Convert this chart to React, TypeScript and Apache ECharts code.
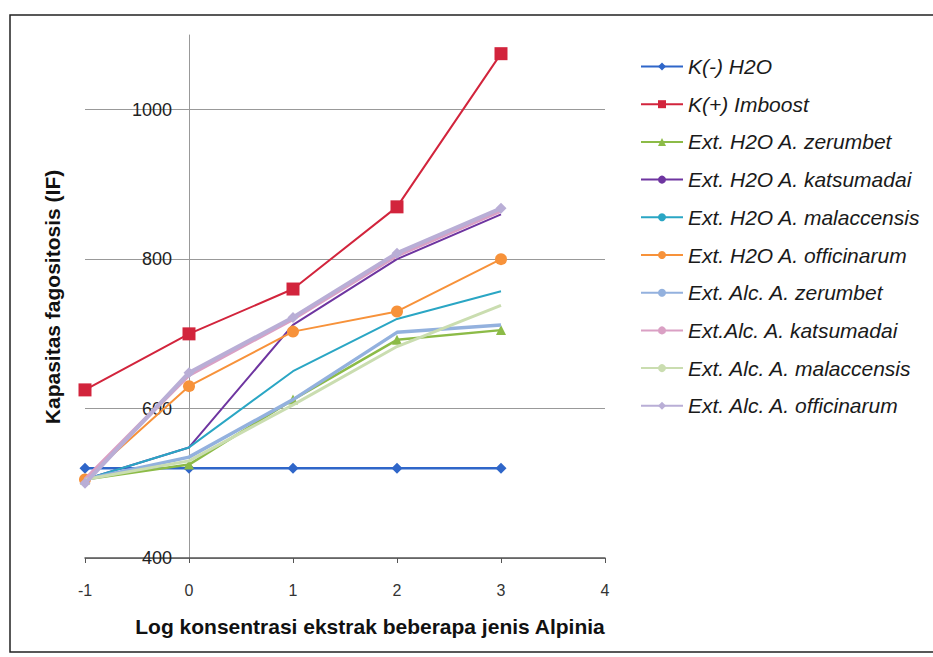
import React, { useEffect, useRef } from "react";
import * as echarts from "echarts";

const xValues = [-1, 0, 1, 2, 3];
const seriesNames = [
  "K(-) H2O",
  "K(+) Imboost",
  "Ext. H2O A. zerumbet",
  "Ext. H2O A. katsumadai",
  "Ext. H2O A. malaccensis",
  "Ext. H2O A. officinarum",
  "Ext. Alc. A. zerumbet",
  "Ext.Alc. A. katsumadai",
  "Ext. Alc. A. malaccensis",
  "Ext. Alc. A. officinarum",
];
const kNeg = [520, 520, 520, 520, 520];
const kPos = [625, 700, 760, 870, 1075];
const h2oZer = [505, 525, 612, 692, 705];
const h2oKat = [505, 548, 712, 800, 860];
const h2oMal = [505, 548, 650, 720, 757];
const h2oOff = [505, 630, 703, 730, 800];
const alcZer = [505, 535, 612, 702, 712];
const alcKat = [505, 645, 720, 805, 865];
const alcMal = [505, 530, 605, 683, 738];
const alcOff = [500, 648, 722, 808, 868];
const yTicks = [400, 600, 800, 1000];

const seriesValues = [kNeg, kPos, h2oZer, h2oKat, h2oMal, h2oOff, alcZer, alcKat, alcMal, alcOff];
const colors = [
  "#2F66C9",
  "#D2243C",
  "#8CBB47",
  "#6E35A0",
  "#2AA6C4",
  "#F7923A",
  "#93B1DE",
  "#DAA0C4",
  "#CADDB0",
  "#B9AED6",
];
const symbols = ["diamond", "rect", "triangle", "none", "none", "circle", "none", "none", "none", "diamond"];
const symbolSizes = [11, 13, 10, 0, 0, 12, 0, 0, 0, 11];
const widths = [2.5, 2, 2.5, 2, 2, 2, 3.5, 4, 3, 4];

export default function App() {
  const ref = useRef<HTMLDivElement>(null);
  useEffect(() => {
    if (!ref.current) return;
    const chart = echarts.init(ref.current, undefined, { renderer: "svg" });
    const font = "Arial, 'Liberation Sans', sans-serif";
    chart.setOption({
      animation: false,
      backgroundColor: "#ffffff",
      color: colors,
      grid: { left: 85, right: 328, top: 35, bottom: 99, outerBoundsMode: "none" },
      legend: {
        orient: "vertical",
        left: 640,
        top: 56,
        padding: 0,
        itemWidth: 42,
        itemHeight: 10,
        itemGap: 16.7,
        itemTextGap: 3,
        lineStyle: { width: 2 },
        textStyle: { fontSize: 21, lineHeight: 20, fontStyle: "italic", color: "#1a1a1a", fontFamily: font },
        data: seriesNames,
      },
      xAxis: {
        type: "value",
        min: -1,
        max: 4,
        interval: 1,
        axisLine: { lineStyle: { color: "#555", width: 1.5 } },
        axisTick: { show: true, length: 5, lineStyle: { color: "#555" } },
        axisLabel: { fontSize: 16, color: "#333", margin: 24, fontFamily: font },
        splitLine: { show: false },
      },
      yAxis: {
        type: "value",
        min: 400,
        max: 1100,
        interval: 200,
        axisLine: { show: true, onZero: true, lineStyle: { color: "#999", width: 1 } },
        axisTick: { show: false },
        axisLabel: {
          fontSize: 18,
          color: "#222",
          margin: -87,
          fontFamily: font,
          showMaxLabel: false,
          formatter: (v: number) => (yTicks.includes(v) ? String(v) : ""),
        },
        splitLine: {
          show: true,
          lineStyle: { color: ["#999", "#999", "#999", "#999", "rgba(0,0,0,0)"], width: 1 },
        },
      },
      graphic: [
        {
          type: "rect",
          shape: { x: 10, y: 15, width: 925, height: 637 },
          style: { fill: "none", stroke: "#222", lineWidth: 1.5 },
          silent: true,
        },
        {
          type: "text",
          x: 52,
          y: 297,
          rotation: Math.PI / 2,
          style: {
            text: "Kapasitas fagositosis (IF)",
            fontSize: 21,
            fontWeight: "bold",
            fontFamily: font,
            fill: "#111",
            align: "center",
            verticalAlign: "middle",
          },
        },
        {
          type: "text",
          x: 370,
          y: 626,
          style: {
            text: "Log konsentrasi ekstrak beberapa jenis Alpinia",
            fontSize: 21,
            fontWeight: "bold",
            fontFamily: font,
            fill: "#111",
            align: "center",
            verticalAlign: "middle",
          },
        },
      ],
      series: seriesNames.map((name, i) => ({
        name,
        type: "line",
        data: xValues.map((x, j) => [x, seriesValues[i][j]]),
        symbol: symbols[i],
        symbolSize: symbolSizes[i],
        showSymbol: symbols[i] !== "none",
        lineStyle: { width: widths[i], color: colors[i] },
        itemStyle: { color: colors[i] },
        z: 2 + i,
      })),
    });
    return () => chart.dispose();
  }, []);
  return (
    <div
      ref={ref}
      style={{ position: "fixed", left: 0, top: 0, width: 933, height: 657 }}
    />
  );
}
